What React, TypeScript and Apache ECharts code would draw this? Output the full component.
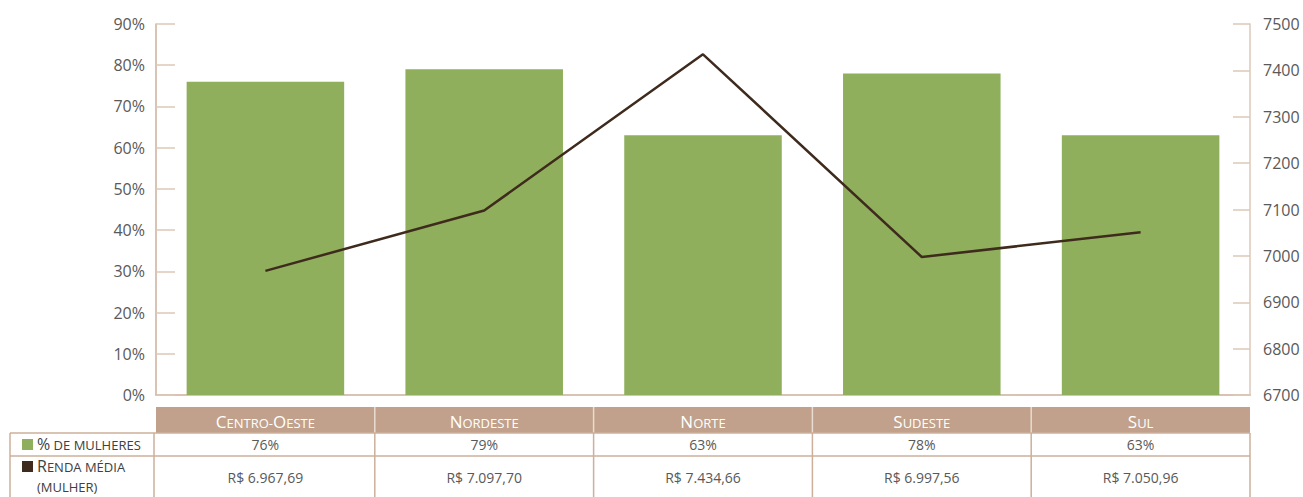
import React, { useEffect, useRef } from "react";
import * as echarts from "echarts";

const categories = ["Centro-Oeste", "Nordeste", "Norte", "Sudeste", "Sul"];
const pctMulheres = [76, 79, 63, 78, 63];
const rendaMedia = [6967.69, 7097.7, 7434.66, 6997.56, 7050.96];
const seriesPct = "% de mulheres";
const seriesRendaLines = ["Renda média", "(mulher)"];
const leftAxis = { min: 0, max: 90, interval: 10 };
const rightAxis = { min: 6700, max: 7500, interval: 100 };

const FONT = "'Open Sans', 'Noto Sans', sans-serif";
const GREEN = "#8FAF5C";
const BROWN = "#3F2B1D";
const TAN = "#C1A18B";
const TAN_LINE = "#CDAF9A";
const TICK = "#DCC8B9";
const TEXT = "#595959";

function fmtBRL(v: number): string {
  const [i, d] = v.toFixed(2).split(".");
  return "R$ " + i.replace(/\B(?=(\d{3})+(?!\d))/g, ".") + "," + d;
}

function smallCaps(s: string): string {
  let out = "";
  let cur = "";
  let curCls = "";
  const flush = () => {
    if (cur) out += "{" + curCls + "|" + cur + "}";
    cur = "";
  };
  for (const ch of s) {
    const isLetter = ch.toLowerCase() !== ch.toUpperCase();
    let cls = "u";
    let c = ch;
    if (isLetter && ch === ch.toLowerCase()) {
      cls = "l";
      c = ch.toUpperCase();
    } else if (!isLetter && ch !== "%") {
      cls = "l";
    }
    if (cls !== curCls) flush();
    curCls = cls;
    cur += c;
  }
  flush();
  return out;
}

export default function App() {
  const ref = useRef<HTMLDivElement>(null);
  useEffect(() => {
    if (!ref.current) return;
    const chart = echarts.init(ref.current, undefined, { renderer: "svg" });
    const gL = 156;
    const gR = 1250;
    const gT = 24;
    const gB = 395;
    const W = 1303;
    const H = 497;
    const colW = (gR - gL) / categories.length;
    const hdrTop = 407;
    const hdrBot = 433;
    const row1Bot = 456;
    const tableBottom = 497;
    const legL = 10;

    const g: any[] = [];
    g.push({
      type: "rect",
      shape: { x: gL, y: hdrTop, width: gR - gL, height: hdrBot - hdrTop },
      style: { fill: TAN },
    });
    for (let i = 1; i < categories.length; i++) {
      g.push({
        type: "line",
        shape: { x1: gL + i * colW, y1: hdrTop, x2: gL + i * colW, y2: hdrBot },
        style: { stroke: "#E8DCD2", lineWidth: 1.5 },
      });
    }
    const richHdr = {
      u: { fontSize: 17, fill: "#fff", fontFamily: FONT, verticalAlign: "bottom", lineHeight: 20 },
      l: { fontSize: 13, fill: "#fff", fontFamily: FONT, verticalAlign: "bottom", lineHeight: 20, padding: [0, 0, 1, 0] },
    };
    categories.forEach((c, i) => {
      g.push({
        type: "text",
        x: gL + (i + 0.5) * colW,
        y: (hdrTop + hdrBot) / 2,
        style: {
          text: smallCaps(c),
          align: "center",
          verticalAlign: "middle",
          fill: "#fff",
          fontFamily: FONT,
          rich: richHdr,
        },
      });
      g.push({
        type: "text",
        x: gL + (i + 0.5) * colW,
        y: (hdrBot + row1Bot) / 2,
        style: {
          text: pctMulheres[i] + "%",
          align: "center",
          verticalAlign: "middle",
          fill: TEXT,
          fontSize: 14,
          fontFamily: FONT,
        },
      });
      g.push({
        type: "text",
        x: gL + (i + 0.5) * colW,
        y: 477,
        style: {
          text: fmtBRL(rendaMedia[i]),
          align: "center",
          verticalAlign: "middle",
          fill: TEXT,
          fontSize: 14,
          fontFamily: FONT,
        },
      });
    });
    const hl = (y: number) =>
      g.push({
        type: "line",
        shape: { x1: legL, y1: y, x2: gR, y2: y },
        style: { stroke: TAN_LINE, lineWidth: 1.5 },
      });
    hl(hdrBot);
    hl(row1Bot);
    const vxs = [legL, gL - 2];
    for (let i = 1; i <= categories.length; i++) vxs.push(gL + i * colW);
    vxs.forEach((x) =>
      g.push({
        type: "line",
        shape: { x1: x, y1: hdrBot, x2: x, y2: tableBottom },
        style: { stroke: TAN_LINE, lineWidth: 1.5 },
      })
    );
    const richLeg = {
      u: { fontSize: 16, fill: "#404040", fontFamily: FONT, verticalAlign: "bottom", lineHeight: 18 },
      l: { fontSize: 13, fill: "#404040", fontFamily: FONT, verticalAlign: "bottom", lineHeight: 18, padding: [0, 0, 1, 0] },
    };
    g.push({
      type: "rect",
      shape: { x: 22, y: 439, width: 11, height: 11 },
      style: { fill: GREEN },
    });
    g.push({
      type: "text",
      x: 37,
      y: 443,
      style: { text: smallCaps(seriesPct), verticalAlign: "middle", fill: "#404040", fontFamily: FONT, rich: richLeg },
    });
    g.push({
      type: "rect",
      shape: { x: 22, y: 461, width: 11, height: 11 },
      style: { fill: BROWN },
    });
    g.push({
      type: "text",
      x: 37,
      y: 465,
      style: { text: smallCaps(seriesRendaLines[0]), verticalAlign: "middle", fill: "#404040", fontFamily: FONT, rich: richLeg },
    });
    g.push({
      type: "text",
      x: 37,
      y: 485,
      style: { text: smallCaps(seriesRendaLines[1]), verticalAlign: "middle", fill: "#404040", fontFamily: FONT, rich: richLeg },
    });

    chart.setOption({
      animation: false,
      grid: { left: gL, right: W - gR, top: gT, bottom: H - gB },
      xAxis: {
        type: "category",
        data: categories,
        axisLine: { lineStyle: { color: TAN_LINE, width: 1.5 } },
        axisTick: { inside: true, length: 8, lineStyle: { color: TAN_LINE } },
        axisLabel: { show: false },
        splitLine: { show: false },
      },
      yAxis: [
        {
          type: "value",
          min: leftAxis.min,
          max: leftAxis.max,
          interval: leftAxis.interval,
          axisLine: { show: true, lineStyle: { color: TAN_LINE, width: 1.5 } },
          axisTick: { show: true, inside: true, length: 19, lineStyle: { color: TICK, width: 1.5 } },
          axisLabel: { formatter: "{value}%", color: TEXT, fontSize: 16, fontFamily: FONT, margin: 11 },
          splitLine: { show: false },
        },
        {
          type: "value",
          position: "right",
          min: rightAxis.min,
          max: rightAxis.max,
          interval: rightAxis.interval,
          axisLine: { show: true, lineStyle: { color: TICK, width: 1.5 } },
          axisTick: { show: true, inside: true, length: 17, lineStyle: { color: TICK, width: 1.5 } },
          axisLabel: {
            formatter: (v: number) => String(v),
            color: TEXT,
            fontSize: 16,
            fontFamily: FONT,
            margin: 13,
          },
          splitLine: { show: false },
        },
      ],
      series: [
        {
          name: seriesPct,
          type: "bar",
          data: pctMulheres,
          barWidth: "72%",
          itemStyle: { color: GREEN },
          z: 2,
        },
        {
          name: seriesRendaLines.join(" "),
          type: "line",
          yAxisIndex: 1,
          data: rendaMedia,
          symbol: "none",
          lineStyle: { color: BROWN, width: 2.5 },
          z: 3,
        },
      ],
      graphic: g,
    });
    return () => chart.dispose();
  }, []);
  return (
    <div
      ref={ref}
      style={{ position: "fixed", left: 0, top: 0, width: 1303, height: 497, background: "#fff" }}
    />
  );
}
